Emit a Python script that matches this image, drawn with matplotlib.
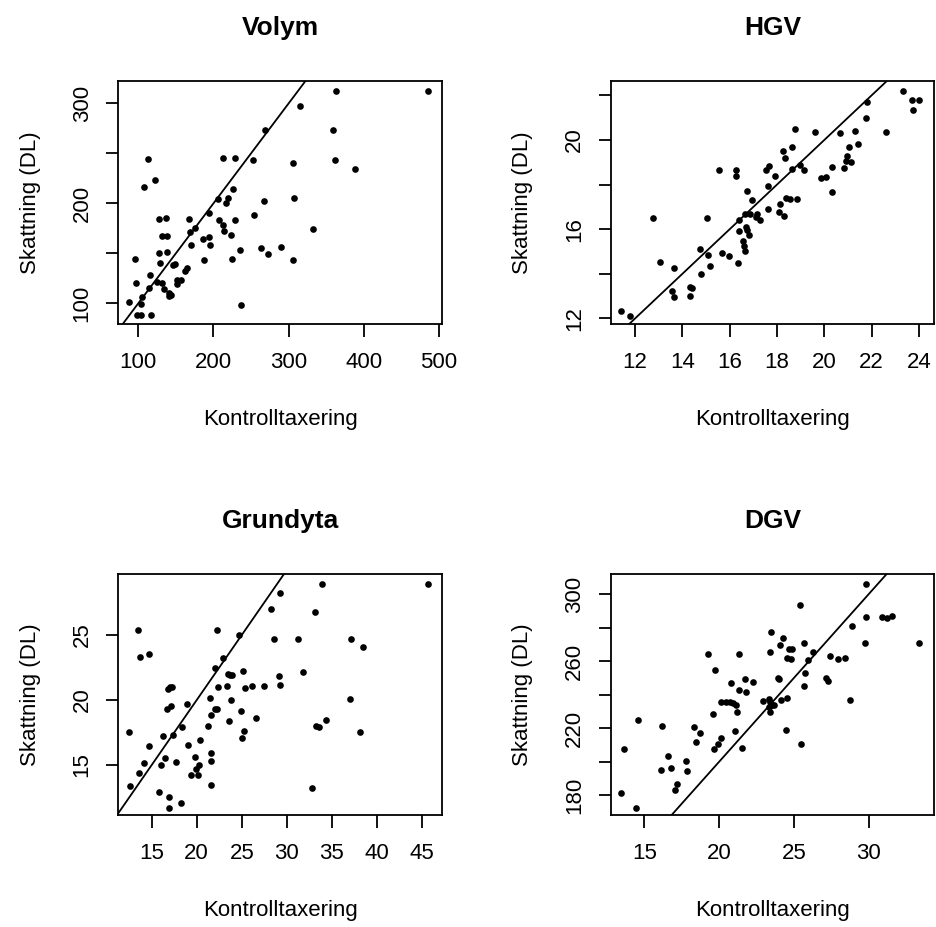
import matplotlib
matplotlib.use('Agg')
import matplotlib.pyplot as plt

plt.rcParams['font.family'] = ['Liberation Sans', 'DejaVu Sans']

# Volym: kontrolltaxering (x) mot skattning (y)
volym_x = [268.4, 112.9, 212.9, 228.9, 251.9, 108.0, 121.7, 226.2, 205.8, 218.7, 216.5, 266.7,
           127.9, 136.8, 166.9, 194.4, 207.7, 228.9, 213.0, 175.4, 169.1, 214.4, 223.2, 254.3,
           131.0, 138.6, 186.4, 194.4, 169.6, 195.7, 127.0, 138.6, 96.0, 129.3, 146.5, 149.2,
           187.3, 225.0, 235.2, 263.6, 272.0, 116.0, 96.9, 125.3, 131.5, 113.7, 134.1, 140.3,
           143.0, 140.8, 151.4, 157.2, 151.9, 162.5, 165.2, 105.3, 87.1, 103.5, 98.7, 104.0,
           117.3, 237.0, 362.4, 485.2, 314.5, 359.3, 306.1, 362.0, 388.6, 306.6, 332.3, 290.2,
           305.2]
volym_y = [273.3, 244.7, 245.3, 245.3, 243.3, 216.7, 223.0, 214.7, 204.0, 205.3, 200.7, 202.7,
           184.3, 185.7, 184.3, 190.3, 183.3, 183.3, 178.3, 175.0, 171.3, 172.3, 168.7, 188.7,
           167.3, 167.3, 164.3, 166.7, 158.3, 158.3, 150.7, 151.3, 144.3, 140.7, 138.7, 139.3,
           143.3, 144.3, 153.3, 155.7, 149.7, 128.7, 120.7, 121.0, 120.0, 115.3, 114.7, 110.0,
           108.0, 107.7, 123.3, 123.7, 119.0, 132.0, 135.0, 106.3, 101.7, 99.7, 88.7, 88.7,
           88.7, 98.3, 312.3, 312.3, 297.6, 273.3, 240.3, 243.3, 234.7, 205.3, 174.3, 156.6,
           143.6]

# HGV
hgv_x = [11.39, 11.79, 12.75, 13.06, 13.66, 13.56, 13.65, 14.34, 14.41, 14.34, 14.79, 14.76,
         15.10, 15.18, 15.03, 15.56, 15.69, 15.96, 16.25, 16.28, 16.38, 16.39, 16.37, 23.34,
         23.69, 24.01, 23.74, 21.80, 21.76, 22.59, 18.74, 19.60, 20.67, 21.28, 21.42, 21.03,
         20.97, 20.91, 21.11, 20.83, 20.31, 19.84, 20.08, 20.34, 18.25, 18.62, 18.35, 17.55,
         17.67, 18.62, 18.98, 19.13, 17.93, 17.60, 16.72, 16.94, 16.66, 16.86, 17.15, 17.11,
         17.27, 16.69, 16.72, 16.83, 16.56, 16.62, 16.63, 17.62, 18.07, 18.13, 18.29, 18.38,
         18.53, 18.84]
hgv_y = [12.34, 12.12, 16.52, 14.55, 14.28, 13.21, 12.97, 13.42, 13.36, 13.02, 14.00, 15.09,
         14.82, 14.37, 16.52, 18.64, 14.91, 14.79, 18.64, 18.37, 16.43, 15.90, 14.50, 22.19,
         21.78, 21.78, 21.35, 21.69, 20.97, 20.34, 20.48, 20.34, 20.30, 20.39, 19.82, 19.67,
         19.28, 19.06, 19.01, 18.73, 18.79, 18.29, 18.32, 17.65, 19.51, 19.67, 19.18, 18.64,
         18.82, 18.70, 18.88, 18.64, 18.37, 17.92, 17.71, 17.30, 16.66, 16.66, 16.70, 16.54,
         16.39, 16.09, 15.98, 15.73, 15.49, 15.24, 15.00, 16.90, 16.79, 17.15, 16.61, 17.39,
         17.35, 17.35]

# Grundyta
grundyta_x = [13.48, 13.74, 14.67, 12.44, 12.59, 13.63, 14.11, 14.74, 15.78, 16.00, 16.30, 16.44,
              16.96, 16.93, 16.81, 17.04, 17.22, 16.67, 17.19, 17.41, 17.74, 18.26, 18.41, 18.89,
              19.00, 19.37, 19.81, 19.96, 20.26, 20.15, 20.41, 21.22, 21.52, 21.59, 21.59, 21.63,
              21.63, 22.04, 22.26, 22.04, 22.33, 22.26, 22.96, 23.33, 23.44, 23.70, 23.89, 23.85,
              23.56, 24.70, 24.93, 25.19, 25.37, 25.30, 25.04, 26.19, 26.63, 27.52, 28.19, 28.59,
              29.11, 29.19, 29.19, 33.88, 45.70, 33.18, 31.29, 37.10, 38.51, 31.81, 37.03, 34.40,
              33.21, 33.58, 38.10, 32.84]
grundyta_y = [25.41, 23.33, 23.56, 17.56, 13.41, 14.38, 15.15, 16.46, 12.95, 15.03, 17.23, 15.56,
              12.51, 11.72, 20.82, 20.97, 21.00, 19.33, 19.54, 17.33, 15.26, 12.10, 17.95, 19.72,
              16.54, 14.26, 15.64, 14.67, 15.00, 14.26, 16.95, 18.00, 20.18, 18.87, 15.92, 15.33,
              13.49, 19.28, 19.28, 22.49, 21.03, 25.41, 23.23, 21.08, 21.97, 21.95, 21.95, 20.03,
              18.36, 25.03, 19.18, 22.23, 20.92, 17.64, 17.10, 21.10, 18.64, 21.10, 27.03, 24.69,
              21.85, 28.23, 21.15, 28.92, 28.92, 26.79, 24.72, 24.72, 24.10, 22.18, 20.10, 18.49,
              18.03, 17.95, 17.56, 13.26]

# DGV (skattning i mm, kontroll i cm)
dgv_x = [13.44, 13.66, 14.47, 14.60, 16.18, 16.56, 16.13, 16.80, 17.18, 17.02, 17.78, 17.83,
         18.32, 18.45, 18.74, 19.27, 19.58, 19.72, 19.67, 19.92, 20.14, 20.14, 20.47, 20.72,
         20.94, 21.14, 20.81, 21.34, 21.32, 21.03, 21.19, 21.56, 21.74, 22.23, 21.81, 23.45,
         24.28, 24.06, 23.43, 24.66, 24.86, 24.50, 24.83, 25.66, 25.43, 26.24, 25.92, 23.94,
         24.01, 25.75, 25.68, 22.92, 23.30, 23.39, 23.52, 23.65, 23.39, 23.34, 24.12, 24.54,
         24.46, 25.50, 27.17, 27.26, 27.42, 27.95, 28.42, 28.77, 28.88, 29.73, 29.84, 29.84,
         30.91, 31.22, 31.53, 33.36]
dgv_y = [181.4, 207.6, 172.6, 224.9, 221.3, 203.4, 195.3, 196.3, 186.8, 183.2, 200.5, 194.5,
         220.7, 211.8, 217.2, 264.3, 228.5, 254.7, 207.8, 210.6, 214.2, 235.8, 235.6, 235.4,
         235.0, 233.8, 247.0, 242.8, 264.3, 218.5, 229.9, 208.4, 249.3, 247.8, 241.6, 277.4,
         274.0, 269.6, 265.6, 267.4, 267.4, 262.1, 261.3, 271.0, 293.7, 265.4, 260.9, 249.7,
         249.3, 252.9, 245.4, 236.4, 237.4, 235.4, 234.0, 234.0, 229.9, 232.9, 237.0, 238.2,
         219.1, 210.8, 249.9, 248.2, 263.3, 261.5, 262.1, 237.0, 280.9, 271.0, 286.5, 306.2,
         286.3, 285.9, 287.1, 271.0]

titles = ['Volym', 'HGV', 'Grundyta', 'DGV']
slopes = [1, 1, 1, 10]

volym_xticks = [100, 200, 300, 400, 500]
volym_yticks = [100, 150, 200, 250, 300]
volym_ylabels = ['100', '', '200', '', '300']
hgv_xticks = [12, 14, 16, 18, 20, 22, 24]
hgv_yticks = [12, 14, 16, 18, 20, 22]
hgv_ylabels = ['12', '', '16', '', '20', '']
grundyta_xticks = [15, 20, 25, 30, 35, 40, 45]
grundyta_yticks = [15, 20, 25]
grundyta_ylabels = ['15', '20', '25']
dgv_xticks = [15, 20, 25, 30]
dgv_yticks = [180, 200, 220, 240, 260, 280, 300]
dgv_ylabels = ['180', '', '220', '', '260', '', '300']

fig = plt.figure(figsize=(9.36, 9.27), dpi=100)

# [left, bottom, width, height] i figurkoordinater, samt axelgranser
rutor = [[0.1264, 0.6505, 0.3455, 0.2621],
         [0.6525, 0.6505, 0.3455, 0.2621],
         [0.1264, 0.1208, 0.3455, 0.2600],
         [0.6525, 0.1208, 0.3455, 0.2600]]
granser = [((73.4, 503.5), (79.3, 322.3)),
           ((10.97, 24.64), (11.75, 22.64)),
           ((11.29, 47.2), (11.15, 29.69)),
           ((12.76, 34.36), (168.25, 311.9))]

data = [(volym_x, volym_y, volym_xticks, volym_yticks, volym_ylabels),
        (hgv_x, hgv_y, hgv_xticks, hgv_yticks, hgv_ylabels),
        (grundyta_x, grundyta_y, grundyta_xticks, grundyta_yticks, grundyta_ylabels),
        (dgv_x, dgv_y, dgv_xticks, dgv_yticks, dgv_ylabels)]

for i in range(4):
    x, y, xt, yt, yl = data[i]
    ax = fig.add_axes(rutor[i])
    ax.plot(x, y, 'o', color='black', markersize=4.8, markeredgewidth=0)
    ax.axline((0, 0), slope=slopes[i], color='black', linewidth=1.3)
    ax.set_xlim(granser[i][0])
    ax.set_ylim(granser[i][1])
    ax.set_xticks(xt)
    ax.set_xticklabels([str(v) for v in xt])
    ax.set_yticks(yt)
    ax.set_yticklabels(yl, rotation=90, va='center')
    for s in ax.spines.values():
        s.set_linewidth(1.3)
    ax.tick_params(axis='both', direction='out', length=9, width=1.3, labelsize=16)
    ax.tick_params(axis='x', pad=11.5)
    ax.tick_params(axis='y', pad=9.5)
    ax.set_xlabel('Kontrolltaxering', fontsize=16, va='center')
    ax.xaxis.set_label_coords(0.5, -0.395)
    ax.set_ylabel('Skattning (DL)', fontsize=16, va='center', ha='center')
    ax.yaxis.set_label_coords(-0.273, 0.5)
    ax.set_title(titles[i], fontsize=19, fontweight='bold', y=1.22, pad=0, va='center')

plt.savefig('out.png', dpi=100)
